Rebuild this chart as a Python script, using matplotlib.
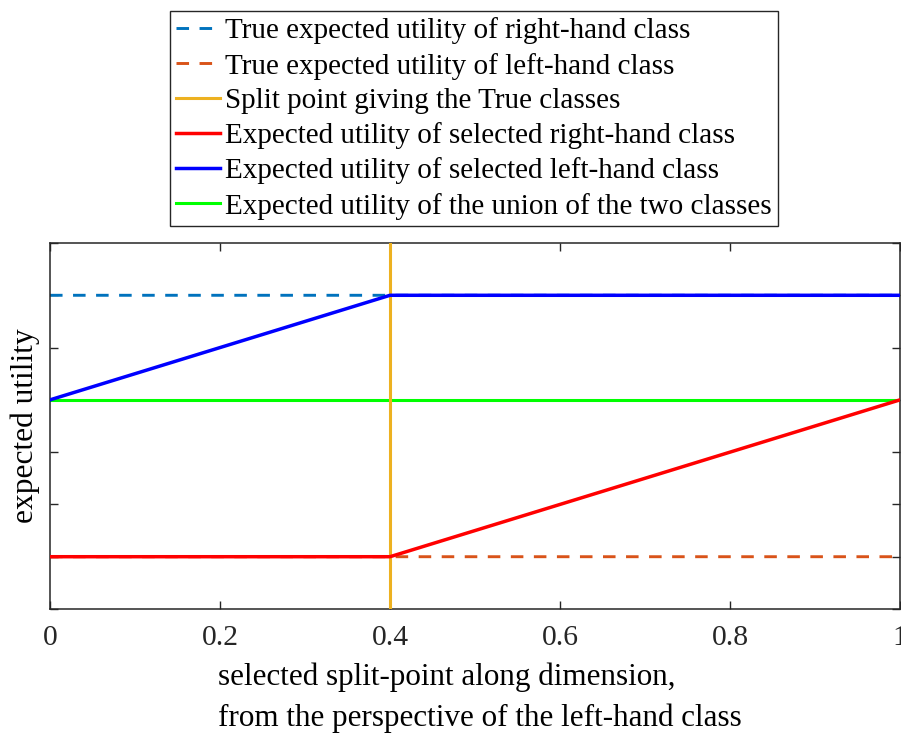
import matplotlib
matplotlib.use("Agg")
import matplotlib.pyplot as plt
import numpy as np

plt.rcParams['font.family'] = ['Liberation Serif', 'DejaVu Serif']

# ---- data ----
x_range = [0.0, 1.0]
split_point = 0.4
true_right_utility = [3.0, 3.0]
true_left_utility = [0.5, 0.5]
sel_x = [0.0, 0.4, 1.0]
sel_right_utility = [0.5, 0.5, 2.0]
sel_left_utility = [2.0, 3.0, 3.0]
union_utility = [2.0, 2.0]
x_ticks = [0, 0.2, 0.4, 0.6, 0.8, 1.0]
x_tick_labels = ['0', '0.2', '0.4', '0.6', '0.8', '1']
y_ticks = [0, 0.5, 1.0, 1.5, 2.0, 2.5, 3.0, 3.5]

labels = [
    'True expected utility of right-hand class',
    'True expected utility of left-hand class',
    'Split point giving the True classes',
    'Expected utility of selected right-hand class',
    'Expected utility of selected left-hand class',
    'Expected utility of the union of the two classes',
]

W, H = 901, 733
fig = plt.figure(figsize=(W / 100, H / 100), dpi=100)
ax = fig.add_axes([50 / W, (H - 609) / H, 850 / W, (609 - 243) / H])

lw = 2.2
h1, = ax.plot(x_range, true_right_utility, color='#0072BD', lw=2.1, dashes=(4.3, 3.6), label=labels[0], zorder=2, snap=False)
h2, = ax.plot(x_range, true_left_utility, color='#D95319', lw=2.1, dashes=(4.3, 3.6), label=labels[1], zorder=2, snap=False)
h3, = ax.plot([split_point, split_point], [y_ticks[0], y_ticks[-1]], color='#EDB120', lw=lw, label=labels[2], zorder=3)
h4, = ax.plot(sel_x, sel_right_utility, color='#FF0000', lw=lw + 0.3, label=labels[3], zorder=4, snap=False)
h5, = ax.plot(sel_x, sel_left_utility, color='#0000FF', lw=lw + 0.3, label=labels[4], zorder=4, snap=False)
h6, = ax.plot(x_range, union_utility, color='#00FF00', lw=lw, label=labels[5], zorder=2.5)

ax.set_xlim(0, 1)
ax.set_ylim(y_ticks[0], y_ticks[-1])
ax.set_xticks(x_ticks)
ax.set_xticklabels(x_tick_labels)
ax.set_yticks(y_ticks)
ax.set_yticklabels([])
ax.tick_params(direction='in', length=6, width=1, top=True, right=True,
               labelsize=21.3, pad=11.5, colors='#262626')
for s in ax.spines.values():
    s.set_linewidth(1.1)
    s.set_color('#262626')

ax.set_ylabel('expected utility', fontsize=22.7)
ax.yaxis.set_label_coords(-10 / 850, 0.5)
ax.set_xlabel('selected split-point along dimension,\nfrom the perspective of the left-hand class',
              fontsize=22.4, multialignment='left', linespacing=1.5)
ax.xaxis.set_label_coords(430 / 850, -54 / 366)

leg = fig.legend(handles=[h1, h2, h3, h4, h5, h6], loc='upper left',
                 bbox_to_anchor=(170 / W, 1 - 11 / H), bbox_transform=fig.transFigure,
                 fontsize=21, frameon=True, fancybox=False, framealpha=1,
                 edgecolor='#262626', handlelength=1.5, handletextpad=0.17,
                 labelspacing=0.28, borderpad=0.22, borderaxespad=0)
leg.get_frame().set_linewidth(1.0)

fig.savefig('out.png', dpi=100)
